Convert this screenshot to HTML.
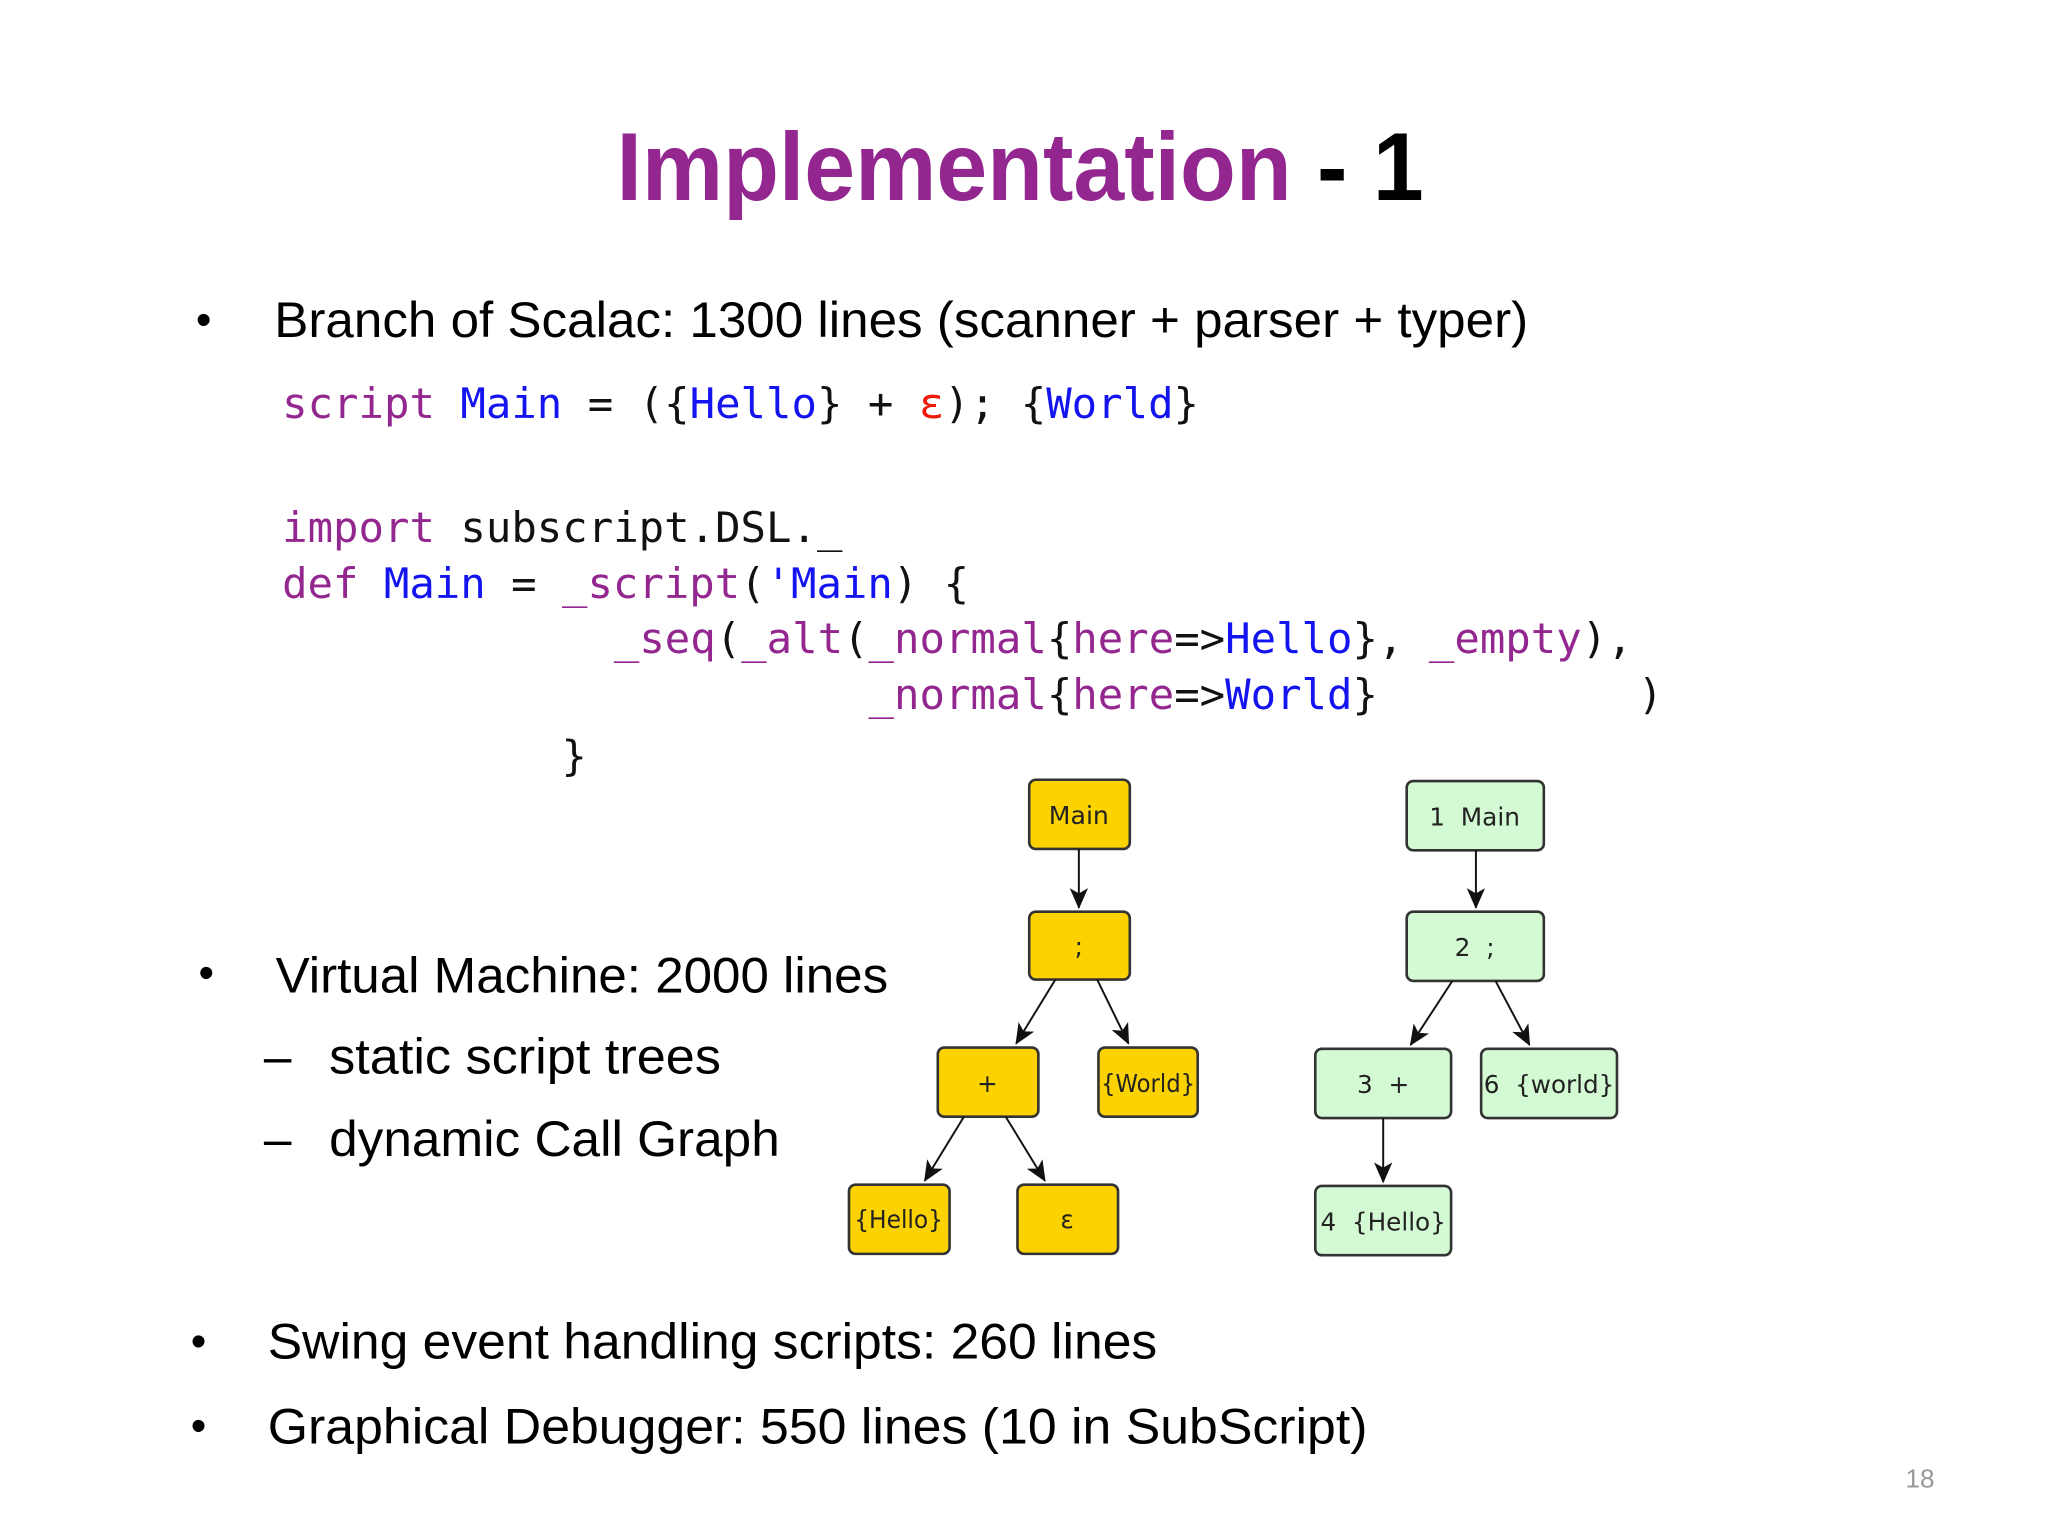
<!DOCTYPE html>
<html><head><meta charset="utf-8"><style>
html,body{margin:0;padding:0;background:#fff;width:2048px;height:1536px;overflow:hidden}
svg{display:block}
.s{font-family:"Liberation Sans",sans-serif;fill:#000}
.m{font-family:"DejaVu Sans Mono","Liberation Mono",monospace;font-size:32px}
.p{fill:#93278f}.b{fill:#1414f0}.r{fill:#f01a0a}.k{fill:#111}
.n{font-family:"DejaVu Sans","Liberation Sans",sans-serif;font-size:19px;fill:#222;text-anchor:middle}
</style></head><body>
<svg width="2048" height="1536" viewBox="0 0 1568 1176" xmlns="http://www.w3.org/2000/svg">
<defs><marker id="a" markerWidth="16" markerHeight="14" refX="15" refY="7" orient="auto" markerUnits="userSpaceOnUse"><path d="M0,0 L16,7 L0,14 L4,7 z" fill="#111"/></marker></defs>
<text class="s" x="472" y="153" font-size="74" font-weight="bold" textLength="618" lengthAdjust="spacingAndGlyphs"><tspan fill="#93278f">Implementation</tspan> - 1</text>
<text class="s" x="150" y="256" font-size="34">•</text>
<text class="s" x="210" y="258" font-size="38" textLength="960" lengthAdjust="spacingAndGlyphs">Branch of Scalac: 1300 lines (scanner + parser + typer)</text>
<g class="m" xml:space="preserve">
<text x="216" y="320" textLength="702" lengthAdjust="spacingAndGlyphs"><tspan class="p">script</tspan> <tspan class="b">Main</tspan><tspan class="k"> = ({</tspan><tspan class="b">Hello</tspan><tspan class="k">} + </tspan><tspan class="r">ε</tspan><tspan class="k">); {</tspan><tspan class="b">World</tspan><tspan class="k">}</tspan></text>
<text x="216" y="415" textLength="429" lengthAdjust="spacingAndGlyphs"><tspan class="p">import</tspan><tspan class="k"> subscript.DSL._</tspan></text>
<text x="216" y="458" textLength="526" lengthAdjust="spacingAndGlyphs"><tspan class="p">def</tspan> <tspan class="b">Main</tspan><tspan class="k"> = </tspan><tspan class="p">_script</tspan><tspan class="k">(</tspan><tspan class="b">'Main</tspan><tspan class="k">) {</tspan></text>
<text x="470" y="500" textLength="780" lengthAdjust="spacingAndGlyphs"><tspan class="p">_seq</tspan><tspan class="k">(</tspan><tspan class="p">_alt</tspan><tspan class="k">(</tspan><tspan class="p">_normal</tspan><tspan class="k">{</tspan><tspan class="p">here</tspan><tspan class="k">=&gt;</tspan><tspan class="b">Hello</tspan><tspan class="k">}, </tspan><tspan class="p">_empty</tspan><tspan class="k">),</tspan></text>
<text x="665" y="543" textLength="390" lengthAdjust="spacingAndGlyphs"><tspan class="p">_normal</tspan><tspan class="k">{</tspan><tspan class="p">here</tspan><tspan class="k">=&gt;</tspan><tspan class="b">World</tspan><tspan class="k">}</tspan></text>
<text x="1254" y="543" class="k">)</text>
<text x="430" y="590" class="k">}</text>
</g>
<text class="s" x="152" y="756" font-size="34">•</text>
<text class="s" x="211" y="760" font-size="38" textLength="469" lengthAdjust="spacingAndGlyphs">Virtual Machine: 2000 lines</text>
<text class="s" x="202" y="822" font-size="38">–</text>
<text class="s" x="252" y="822" font-size="38" textLength="300" lengthAdjust="spacingAndGlyphs">static script trees</text>
<text class="s" x="202" y="885" font-size="38">–</text>
<text class="s" x="252" y="885" font-size="38" textLength="345" lengthAdjust="spacingAndGlyphs">dynamic Call Graph</text>
<text class="s" x="146" y="1038" font-size="34">•</text>
<text class="s" x="205" y="1040" font-size="38" textLength="681" lengthAdjust="spacingAndGlyphs">Swing event handling scripts: 260 lines</text>
<text class="s" x="146" y="1103" font-size="34">•</text>
<text class="s" x="205" y="1105" font-size="38" textLength="842" lengthAdjust="spacingAndGlyphs">Graphical Debugger: 550 lines  (10 in SubScript)</text>
<text x="1470" y="1139" font-family="Liberation Sans,sans-serif" font-size="20" fill="#999" text-anchor="middle">18</text>
<g stroke="#333" stroke-width="2" fill="#fcd200">
<rect x="788" y="597" width="77" height="53" rx="5"/>
<rect x="788" y="698" width="77" height="52" rx="5"/>
<rect x="718" y="802" width="77" height="53" rx="5"/>
<rect x="841" y="802" width="76" height="53" rx="5"/>
<rect x="650" y="907" width="77" height="53" rx="5"/>
<rect x="779" y="907" width="77" height="53" rx="5"/>
</g>
<g stroke="#333" stroke-width="2" fill="#d4fad4">
<rect x="1077" y="598" width="105" height="53" rx="5"/>
<rect x="1077" y="698" width="105" height="53" rx="5"/>
<rect x="1007" y="803" width="104" height="53" rx="5"/>
<rect x="1134" y="803" width="104" height="53" rx="5"/>
<rect x="1007" y="908" width="104" height="53" rx="5"/>
</g>
<g stroke="#111" stroke-width="1.5" marker-end="url(#a)">
<line x1="826" y1="650" x2="826" y2="695"/>
<line x1="808" y1="750" x2="778" y2="799"/>
<line x1="840" y1="750" x2="864" y2="799"/>
<line x1="738" y1="855" x2="708" y2="904"/>
<line x1="770" y1="855" x2="800" y2="904"/>
<line x1="1130" y1="651" x2="1130" y2="695"/>
<line x1="1112" y1="751" x2="1080" y2="800"/>
<line x1="1145" y1="751" x2="1171" y2="800"/>
<line x1="1059" y1="856" x2="1059" y2="905"/>
</g>
<text class="n" x="826" y="631" textLength="46" lengthAdjust="spacingAndGlyphs">Main</text>
<text class="n" x="826" y="731">;</text>
<text class="n" x="756" y="836">+</text>
<text class="n" x="879" y="836" textLength="72" lengthAdjust="spacingAndGlyphs">{World}</text>
<text class="n" x="688" y="940" textLength="68" lengthAdjust="spacingAndGlyphs">{Hello}</text>
<text class="n" x="817" y="940">ε</text>
<text class="n" x="1129" y="632" xml:space="preserve">1  Main</text>
<text class="n" x="1129" y="732" xml:space="preserve">2  ;</text>
<text class="n" x="1059" y="837" xml:space="preserve">3  +</text>
<text class="n" x="1186" y="837" xml:space="preserve" textLength="100" lengthAdjust="spacingAndGlyphs">6  {world}</text>
<text class="n" x="1059" y="942" xml:space="preserve" textLength="96" lengthAdjust="spacingAndGlyphs">4  {Hello}</text>
</svg>
</body></html>
